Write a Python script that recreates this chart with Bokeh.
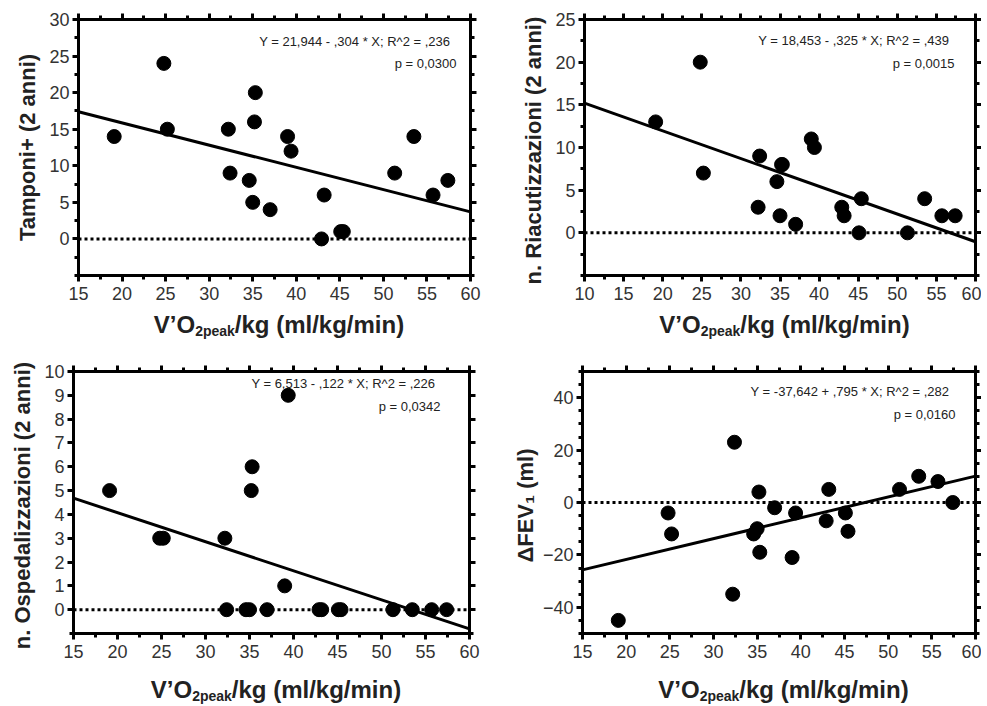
from bokeh.plotting import figure
from bokeh.models import LinearAxis, FixedTicker, Label, Span, Range1d, Div
from bokeh.layouts import column, row
from bokeh.embed import file_html
from bokeh.resources import INLINE

# ---------------- data ----------------
vo2_peak = [19.1, 24.8, 25.2, 32.2, 32.4, 34.6, 35.0, 35.2, 35.3, 37.0,
            39.0, 39.4, 42.9, 43.2, 45.1, 45.4, 51.3, 53.5, 55.7, 57.4]
tamponi = [14, 24, 15, 15, 9, 8, 5, 16, 20, 4,
           14, 12, 0, 6, 1, 1, 9, 14, 6, 8]
riacutizzazioni = [13, 20, 7, 3, 9, 6, 2, 8, 8, 1,
                   11, 10, 3, 2, 0, 4, 0, 4, 2, 2]
ospedalizzazioni = [5, 3, 3, 3, 0, 0, 0, 5, 6, 0,
                    1, 9, 0, 0, 0, 0, 0, 0, 0, 0]
delta_fev1 = [-45, -4, -12, -35, 23, -12, -10, 4, -19, -2,
              -21, -4, -7, 5, -4, -11, 5, 10, 8, 0]

intercepts = [21.944, 18.453, 6.513, -37.642]
slopes = [-0.304, -0.325, -0.122, 0.795]
equation_texts = ["Y = 21,944  - ,304  * X; R^2 = ,236",
                  "Y = 18,453  - ,325  * X; R^2 = ,439",
                  "Y = 6,513  - ,122  * X; R^2 = ,226",
                  "Y = -37,642  + ,795  * X; R^2 = ,282"]
p_texts = ["p = 0,0300", "p = 0,0015", "p = 0,0342", "p = 0,0160"]
y_titles = ["Tamponi+ (2 anni)", "n. Riacutizzazioni  (2 anni)",
            "n. Ospedalizzazioni  (2 anni)", "\u0394FEV\u2081  (ml)"]
x_title_main = "V\u2019O"
x_title_sub = "2peak"
x_title_rest = "/kg (ml/kg/min)"

x_ticks_15 = [15, 20, 25, 30, 35, 40, 45, 50, 55, 60]
x_ticks_10 = [10, 15, 20, 25, 30, 35, 40, 45, 50, 55, 60]
y_ticks_tamponi = [0, 5, 10, 15, 20, 25, 30]
y_ticks_riacut = [0, 5, 10, 15, 20, 25]
y_ticks_osped = [0, 1, 2, 3, 4, 5, 6, 7, 8, 9, 10]
y_ticks_fev = [-40, -20, 0, 20, 40]

TICK_FONT = "Liberation Sans"
TITLE_FONT = "Liberation Sans"


def halves(ticks, lo, hi, step):
    out = []
    v = lo
    while v <= hi + 1e-9:
        if all(abs(v - t) > 1e-9 for t in ticks):
            out.append(v)
        v += step
    return out


def style_axis(ax, labels, standoff=3):
    ax.axis_line_width = 3
    ax.axis_line_color = "black"
    ax.major_tick_line_width = 3
    ax.minor_tick_line_width = 3
    ax.major_tick_line_color = "black"
    ax.minor_tick_line_color = "black"
    ax.major_tick_in = 0
    ax.minor_tick_in = 0
    ax.major_tick_out = 6
    ax.minor_tick_out = 4
    if labels:
        ax.major_label_text_font = TICK_FONT
        ax.major_label_text_font_size = "18px"
        ax.major_label_text_color = "#333333"
        ax.major_label_standoff = standoff
    else:
        ax.major_label_text_font_size = "0px"
        ax.major_label_text_color = None
        ax.major_label_standoff = 0


def make_panel(idx, ydata, xr, yr, xt, xminor, yt, yminor, width, height,
               bl, br, bt, bb, eq_pos, p_pos, ystandoff, div_h, title_pad):
    fw = width - bl - br
    fh = height - bt - bb
    p = figure(width=width, height=height, x_range=Range1d(*xr), y_range=Range1d(*yr),
               output_backend="svg", toolbar_location=None,
               min_border_left=bl, min_border_right=br,
               min_border_top=bt, min_border_bottom=bb,
               background_fill_color="white", border_fill_color="white")
    p.xgrid.visible = False
    p.ygrid.visible = False
    p.outline_line_color = "black"
    p.outline_line_width = 3

    p.xaxis[0].ticker = FixedTicker(ticks=xt, minor_ticks=xminor)
    p.yaxis[0].ticker = FixedTicker(ticks=yt, minor_ticks=yminor)
    style_axis(p.xaxis[0], True, 5)
    style_axis(p.yaxis[0], True, 3)
    p.yaxis[0].axis_label = y_titles[idx]
    p.yaxis[0].axis_label_text_font = TITLE_FONT
    p.yaxis[0].axis_label_text_font_style = "bold"
    p.yaxis[0].axis_label_text_font_size = "22px"
    p.yaxis[0].axis_label_text_color = "#222222"
    p.yaxis[0].axis_label_standoff = ystandoff

    top = LinearAxis(ticker=FixedTicker(ticks=xt, minor_ticks=xminor))
    right = LinearAxis(ticker=FixedTicker(ticks=yt, minor_ticks=yminor))
    style_axis(top, False)
    style_axis(right, False)
    p.add_layout(top, "above")
    p.add_layout(right, "right")

    def to_data(dx, dy):
        x = xr[0] + dx * (xr[1] - xr[0]) / fw
        y = yr[1] - dy * (yr[1] - yr[0]) / fh
        return x, y

    # zero reference
    p.add_layout(Span(location=0, dimension="width", line_color="black",
                      line_width=3, line_dash="3 3"))
    # regression line from the printed coefficients
    a, b = intercepts[idx], slopes[idx]
    p.line([xr[0], xr[1]], [a + b * xr[0], a + b * xr[1]],
           line_color="black", line_width=3)
    # points
    p.scatter(vo2_peak, ydata, size=14, fill_color="black", line_color="black")

    ex, ey = to_data(*eq_pos)
    p.add_layout(Label(x=ex, y=ey, text=equation_texts[idx], text_align="right",
                       text_baseline="middle", text_font=TICK_FONT,
                       text_font_size="13px", text_color="#222222"))
    px_, py_ = to_data(*p_pos)
    p.add_layout(Label(x=px_, y=py_, text=p_texts[idx], text_align="right",
                       text_baseline="middle", text_font=TICK_FONT,
                       text_font_size="13px", text_color="#222222"))

    html = ('<div style="width:%dpx;margin-left:%dpx;padding-top:%dpx;text-align:center;'
            'font-family:\'Liberation Sans\';font-weight:bold;font-size:24px;line-height:24px;'
            'color:#222222;white-space:nowrap;">%s<sub style="font-size:14px;line-height:0;'
            'vertical-align:-3px;">%s</sub>%s</div>'
            % (fw, bl, title_pad, x_title_main, x_title_sub, x_title_rest))
    d = Div(text=html, width=width, height=div_h)
    return column(p, d, spacing=0)


x15_minor = halves(x_ticks_15, 15, 60, 2.5)
x10_minor = halves(x_ticks_10, 10, 60, 2.5)

c1 = make_panel(0, tamponi, (15, 60), (-5, 30), x_ticks_15, x15_minor,
                y_ticks_tamponi, halves(y_ticks_tamponi, -5, 30, 2.5),
                482, 302, 78, 12, 19, 23, (379, 22), (378, 45), 6, 40, 6)
c2 = make_panel(1, riacutizzazioni, (10, 60), (-5, 25), x_ticks_10, x10_minor,
                y_ticks_riacut, halves(y_ticks_riacut, -5, 25, 2.5),
                489, 302, 92, 6, 19, 23, (372, 21), (370, 45), 6, 40, 6)
c3 = make_panel(2, ospedalizzazioni, (15, 60), (-1, 10), x_ticks_15, x15_minor,
                y_ticks_osped, [-1],
                482, 312, 73, 13, 19, 31, (369, 12), (367, 35), 6, 36, 9)
c4 = make_panel(3, delta_fev1, (15, 60), (-50, 50), x_ticks_15, x15_minor,
                y_ticks_fev, halves(y_ticks_fev, -50, 50, 5),
                489, 312, 90, 6, 19, 31, (374, 20), (373, 43), 2, 36, 9)

layout = column(row(c1, c2, spacing=0), row(c3, c4, spacing=0), spacing=0)
open("out.html", "w").write(file_html(layout, INLINE))
